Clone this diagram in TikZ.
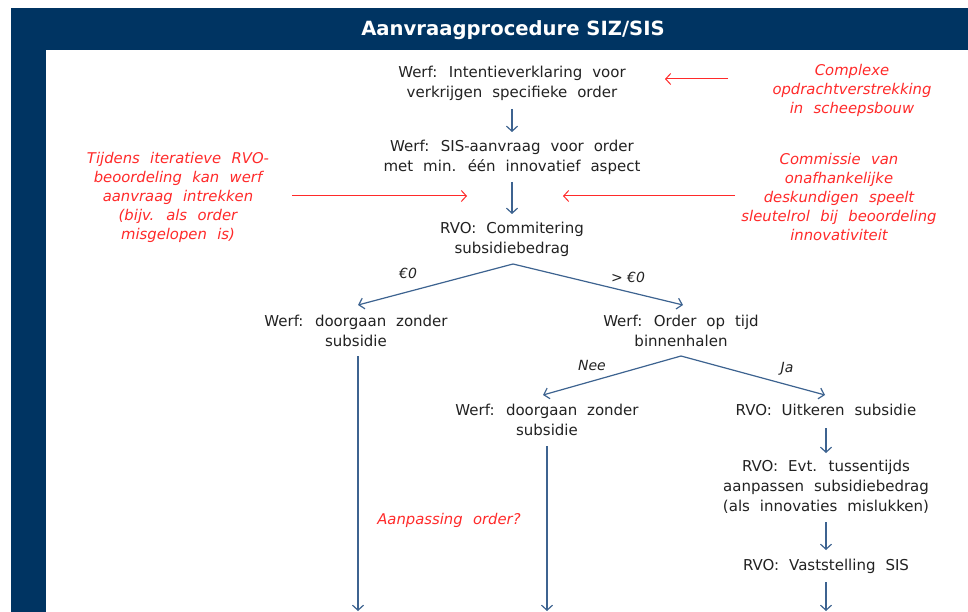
\documentclass[tikz,border=0pt]{standalone}
\usepackage{fontspec}
\setmainfont{DejaVu Sans}
\usetikzlibrary{arrows.meta}
\definecolor{frameblue}{HTML}{003462}
\definecolor{lineblue}{HTML}{3D6390}
\definecolor{txt}{HTML}{222222}
\definecolor{note}{HTML}{FF2A2A}
\newcommand\myStepFont{\fontsize{15}{20}\selectfont\spaceskip=0.66em\relax}
\newcommand\myNoteFont{\fontsize{14.8}{19}\selectfont\itshape\spaceskip=0.7em\relax}
\tikzset{
  stepnode/.style={align=center, text=txt, font=\myStepFont, inner sep=0pt},
  notenode/.style={align=center, text=note, font=\myNoteFont, inner sep=0pt},
  branchlabel/.style={text=txt, font=\fontsize{14}{16}\selectfont\itshape, inner sep=0pt},
  flow/.style={draw=lineblue, line width=1.2pt, -{Straight Barb[length=5pt,width=11pt]}},
  noteflow/.style={draw=note, line width=1pt, -{Straight Barb[length=5pt,width=11pt]}},
}
\begin{document}
\begin{tikzpicture}[x=1pt,y=-1pt]
\useasboundingbox (0,0) rectangle (968,612);
\fill[white] (0,0) rectangle (968,612);
% frame
\fill[frameblue] (11,8) rectangle (968,50);
\fill[frameblue] (11,8) rectangle (46,612);
\node[text=white, font=\fontsize{19.6}{20}\selectfont\bfseries] (title) at (513,30) {Aanvraagprocedure SIZ/SIS};

% steps
\node[stepnode] (n1) at (512,83) {Werf: Intentieverklaring voor\\verkrijgen specifieke order};
\node[stepnode] (n2) at (512,157) {Werf: SIS-aanvraag voor order\\met min. één innovatief aspect};
\node[stepnode] (n3) at (512,239) {RVO: Commitering\\subsidiebedrag};
\node[stepnode] (n4) at (356,331) {Werf: doorgaan zonder\\subsidie};
\node[stepnode] (n5) at (681,331) {Werf: Order op tijd\\binnenhalen};
\node[stepnode] (n6) at (547,420) {Werf: doorgaan zonder\\subsidie};
\node[stepnode] (n7) at (826,410) {RVO: Uitkeren subsidie};
\node[stepnode] (n8) at (826,487) {RVO: Evt. tussentijds\\aanpassen subsidiebedrag\\(als innovaties mislukken)};
\node[stepnode] (n9) at (826,566) {RVO: Vaststelling SIS};

% notes
\node[notenode] (c1) at (852,90) {Complexe\\opdrachtverstrekking\\in scheepsbouw};
\node[notenode] (c2) at (178,197) {Tijdens iteratieve RVO-\\beoordeling kan werf\\aanvraag intrekken\\(bijv. als order\\misgelopen is)};
\node[notenode] (c3) at (839,197) {Commissie van\\onafhankelijke\\deskundigen speelt\\sleutelrol bij beoordeling\\innovativiteit};
\node[notenode] (c4) at (449,520) {Aanpassing order?};

% coordinates
\coordinate (a1s) at (512,109);
\coordinate (a1e) at (512,132);
\coordinate (a2s) at (512,182);
\coordinate (a2e) at (512,214);
\coordinate (apex1) at (513,264);
\coordinate (l1e) at (358,305);
\coordinate (r1e) at (683,305);
\coordinate (apex2) at (681,356);
\coordinate (l2e) at (543,395);
\coordinate (r2e) at (825,395);
\coordinate (d4s) at (358,356);
\coordinate (d4e) at (358,611);
\coordinate (d6s) at (547,446);
\coordinate (d6e) at (547,611);
\coordinate (a7s) at (826,428);
\coordinate (a7e) at (826,453);
\coordinate (a8s) at (826,522);
\coordinate (a8e) at (826,550);
\coordinate (a9s) at (826,582);
\coordinate (a9e) at (826,611);
\coordinate (rs1) at (728,79);
\coordinate (re1) at (665,79);
\coordinate (ls2) at (292,196);
\coordinate (le2) at (467,196);
\coordinate (rs2) at (735,196);
\coordinate (re2) at (563,196);

% flows
\draw[flow] (a1s) -- (a1e);
\draw[flow] (a2s) -- (a2e);
\draw[flow] (apex1) -- (l1e);
\draw[flow] (apex1) -- (r1e);
\draw[flow] (apex2) -- (l2e);
\draw[flow] (apex2) -- (r2e);
\draw[flow] (d4s) -- (d4e);
\draw[flow] (d6s) -- (d6e);
\draw[flow] (a7s) -- (a7e);
\draw[flow] (a8s) -- (a8e);
\draw[flow] (a9s) -- (a9e);

\node[branchlabel] (b1) at (408,273) {€0};
\node[branchlabel] (b2) at (628,277) {> €0};
\node[branchlabel] (b3) at (592,365) {Nee};
\node[branchlabel] (b4) at (787,369) {Ja};

% note arrows
\draw[noteflow] (rs1) -- (re1);
\draw[noteflow] (ls2) -- (le2);
\draw[noteflow] (rs2) -- (re2);
\end{tikzpicture}
\end{document}
